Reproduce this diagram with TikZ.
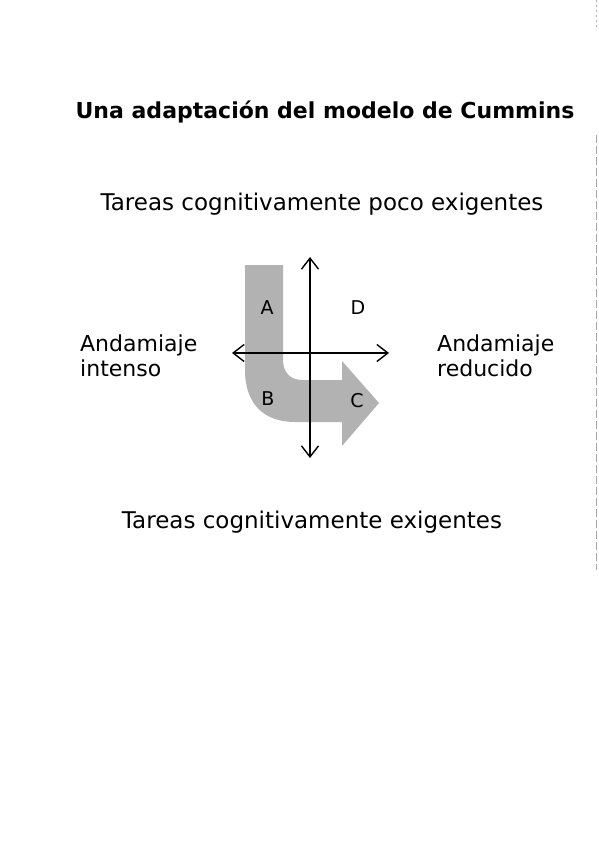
\documentclass[tikz,border=0pt]{standalone}
\usepackage{fontspec}
\setmainfont{DejaVu Sans}
\usetikzlibrary{arrows.meta}
\begin{document}
\begin{tikzpicture}[x=1pt,y=-1pt,
  lbl/.style={font=\fontsize{23}{26}\selectfont, inner sep=0pt, anchor=base},
  side/.style={font=\fontsize{22}{25}\selectfont, inner sep=0pt, align=left, anchor=north west},
  letter/.style={font=\fontsize{19}{22}\selectfont, inner sep=0pt, anchor=base},
  axis/.style={line width=1.6pt, -{Straight Barb[length=11pt,width=17pt,line width=1.4pt]}},
  bent/.style={fill=gray!60, draw=none}]
\useasboundingbox (0,0) rectangle (599,848);
\fill[white] (0,0) rectangle (599,848);
% scan edge line
\draw[gray!70, line width=0.7pt, dash pattern=on 8pt off 3pt] (596,135) -- (596,570);
\draw[gray!60, line width=0.6pt, dash pattern=on 2pt off 3pt] (596,0) -- (596,30);
% title
\node[font=\bfseries\fontsize{22}{26}\selectfont, inner sep=0pt, anchor=base] (title) at (325,118) {Una adaptación del modelo de Cummins};
\node[lbl] (top) at (322,210) {Tareas cognitivamente poco exigentes};
\node[lbl] (bottom) at (312,528) {Tareas cognitivamente exigentes};
% bent arrow
\path[bent] (245,265) -- (245,370) .. controls (245,405) and (265,422) .. (295,422)
  -- (342,422) -- (342,446) -- (379,403) -- (342,361) -- (342,380) -- (302,380)
  .. controls (290,380) and (283,372) .. (283,360) -- (283,265) -- cycle;
% axes
\coordinate (o) at (310,353);
\coordinate (up) at (310,257);
\coordinate (dn) at (310,458);
\coordinate (lf) at (232,353);
\coordinate (rt) at (389,353);
\draw[axis] (o) -- (up);
\draw[axis] (o) -- (dn);
\draw[axis] (o) -- (lf);
\draw[axis] (o) -- (rt);
% letters
\node[letter] (A) at (267,314) {A};
\node[letter] (D) at (358,314) {D};
\node[letter] (B) at (268,405) {B};
\node[letter] (C) at (357,407) {C};
% side labels
\node[side] (left) at (80,335) {Andamiaje\\intenso};
\node[side] (right) at (437,335) {Andamiaje\\reducido};
\end{tikzpicture}
\end{document}
